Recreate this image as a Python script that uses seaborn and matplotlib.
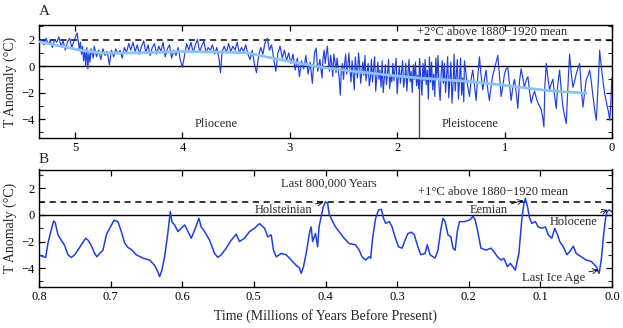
import numpy as np
import pandas as pd
import matplotlib
matplotlib.use("Agg")
import matplotlib.pyplot as plt
import seaborn as sns
from matplotlib.ticker import MultipleLocator, FixedLocator, FormatStrFormatter

# ---------------- Panel A data (Myr before present, T anomaly degC) ----------------
a_time = [
    5.33, 5.31, 5.29, 5.27, 5.25, 5.23, 5.21, 5.19, 5.17, 5.15, 5.13, 5.11, 5.09, 5.07, 5.05, 5.03, 5.01, 4.98,
    4.96, 4.95, 4.94, 4.93, 4.92, 4.91, 4.90, 4.89, 4.88, 4.87, 4.86, 4.85, 4.83, 4.82, 4.80, 4.78, 4.76, 4.74,
    4.72, 4.70, 4.68, 4.66, 4.64, 4.62, 4.60, 4.58, 4.56, 4.54, 4.52, 4.50, 4.48, 4.46, 4.44, 4.42, 4.40, 4.38,
    4.36, 4.34, 4.32, 4.30, 4.28, 4.26, 4.24, 4.22, 4.20, 4.18, 4.16, 4.14, 4.12, 4.10, 4.08, 4.06, 4.04, 4.02,
    4.00,
    3.98, 3.96, 3.94, 3.92, 3.90, 3.88, 3.86, 3.84, 3.82, 3.80, 3.78, 3.76, 3.74, 3.72, 3.70, 3.68, 3.66, 3.645,
    3.63, 3.61, 3.59, 3.57, 3.55, 3.53, 3.51, 3.49, 3.47, 3.45, 3.43, 3.41, 3.39, 3.37, 3.35, 3.33, 3.31, 3.29,
    3.27, 3.25, 3.23, 3.21, 3.19, 3.17, 3.15, 3.13, 3.11, 3.09, 3.07, 3.05, 3.03, 3.01, 2.99,
    2.97, 2.95, 2.93, 2.91, 2.89, 2.87, 2.85, 2.83, 2.81, 2.79, 2.77, 2.755, 2.74, 2.72, 2.70,
    2.69, 2.68, 2.67, 2.66, 2.65, 2.64, 2.63, 2.62, 2.61, 2.60,
    2.59, 2.58, 2.57, 2.56, 2.55, 2.54, 2.53, 2.52, 2.51, 2.50,
    2.49, 2.48, 2.47, 2.46, 2.45, 2.44, 2.43, 2.42, 2.41, 2.40,
    2.39, 2.38, 2.37, 2.36, 2.35, 2.34, 2.33, 2.32, 2.31, 2.30,
    2.29, 2.28, 2.27, 2.26, 2.25, 2.24, 2.23, 2.22, 2.21, 2.20,
    2.19, 2.18, 2.17, 2.16, 2.15, 2.14, 2.13, 2.12, 2.11, 2.10,
    2.09, 2.08, 2.07, 2.06, 2.05, 2.04, 2.03, 2.02, 2.01, 2.00,
    1.99, 1.98, 1.97, 1.96, 1.95, 1.94, 1.93, 1.92, 1.91, 1.90,
    1.89, 1.88, 1.87, 1.86, 1.85, 1.84, 1.83, 1.82, 1.81, 1.80,
    1.79, 1.78, 1.77, 1.76, 1.75, 1.74, 1.73, 1.72, 1.71, 1.70,
    1.69, 1.68, 1.67, 1.66, 1.65, 1.64, 1.63, 1.62, 1.61, 1.60,
    1.59, 1.58, 1.57, 1.56, 1.55, 1.54, 1.53, 1.52, 1.51, 1.50,
    1.49, 1.48, 1.47, 1.46, 1.45, 1.44, 1.43, 1.42, 1.41, 1.40,
    1.39, 1.38,
    1.374, 1.35, 1.327, 1.31, 1.296, 1.28, 1.265, 1.25, 1.234, 1.22, 1.203, 1.19, 1.172, 1.155, 1.141, 1.125,
    1.110, 1.085, 1.063, 1.045, 1.032, 1.015, 1.001, 0.985, 0.970, 0.955, 0.939, 0.925, 0.908, 0.892,
    0.877, 0.862, 0.846, 0.83, 0.815, 0.80, 0.783, 0.768, 0.752, 0.735, 0.721, 0.705, 0.690, 0.675, 0.659,
    0.645, 0.634, 0.625, 0.612, 0.595, 0.581, 0.565, 0.550, 0.535, 0.519, 0.505, 0.488, 0.472, 0.457, 0.44,
    0.426, 0.41, 0.395, 0.38, 0.364, 0.35, 0.333, 0.318, 0.301, 0.285, 0.270, 0.255, 0.239, 0.222, 0.208,
    0.192, 0.177, 0.16, 0.146, 0.138, 0.130, 0.122, 0.115, 0.104, 0.093, 0.08, 0.068, 0.055, 0.043, 0.032,
    0.021, 0.012, 0.006, 0.002,
]
a_temp = [
    1.8, 2.0, 1.6, 2.1, 1.7, 1.9, 1.4, 2.0, 1.8, 2.2, 1.5, 1.9, 1.2, 1.8, 2.1, 1.4, 1.9, 2.5,
    1.3, 1.8, 0.9, 1.5, 0.4, 1.2, 0.0, 1.4, -0.2, 1.0, 0.3, 1.3, 0.6, 1.5, 0.7, 1.2, 0.5, 1.3,
    0.8, 1.1, 0.1, 1.2, 0.7, 1.3, 0.9, 1.2, 0.6, 1.4, 1.0, 1.7, 1.2, 1.8, 1.1, 1.6, 0.9, 1.5,
    1.9, 1.0, 1.6, 0.8, 1.4, 1.7, 0.9, 1.5, 1.1, 1.8, 0.7, 1.3, 1.6, 0.6, 1.2, 0.8, 1.4, 0.5,
    -0.1,
    0.8, 1.7, 1.2, 1.8, 1.0, 1.6, 2.0, 1.1, 1.5, 1.9, 1.0, 1.4, 1.2, 1.6, 0.9, 1.4, 0.6, -0.5,
    1.1, 1.5, 1.0, 1.7, 1.1, 1.5, 1.2, 1.8, 1.0, 1.4, 1.1, 1.6, 0.9, 0.5, 1.2, 0.2, -0.5, 0.8,
    1.4, 0.9, 1.8, 2.1, 1.2, 1.6, 0.6, -0.4, 1.0, 1.5, 0.6, 1.2, 0.4, 1.0, 0.2,
    0.9, -0.3, 0.6, -0.8, 0.4, -0.2, 0.8, -0.6, 0.3, -1.3, 1.0, 1.35, -0.4, 0.5, -0.9,
    0.6, 1.2, 0.2, 0.9, 1.5, 0.3, -0.4, 0.8, 0.2, -0.8,
    0.9, 0.4, -0.5, 0.6, -0.2, -0.9, -2.2, -0.3, 0.2, -1.0,
    0.1, 0.9, -0.6, -0.1, 1.0, -0.2, -1.2, 0.4, -0.6, -1.8,
    0.7, -0.3, -0.9, 1.0, 0.1, -1.3, -0.5, 0.3, -0.7, 0.8,
    -1.1, -0.4, 0.2, -1.5, -0.9, 0.5, -1.2, -0.1, 0.7, -1.9,
    -0.8, 0.3, -1.0, -0.3, -1.6, 0.4, -2.0, -1.0, 0.1, -1.4,
    -0.6, 0.5, -1.7, -0.7, -1.2, 0.2, -1.1, -0.2, 0.6, -2.1,
    -0.9, 0.0, -1.3, -0.5, 0.4, -1.6, -1.0, 0.2, -1.9, -0.6,
    0.5, -1.2, -0.4, -2.0, 0.1, -1.0, 0.3, -1.5, -0.7, -1.7,
    0.4, -0.9, -2.2, 0.2, -1.1, 0.5, -1.4, -0.3, -2.5, 0.7,
    -1.2, 0.3, -1.8, -0.6, -2.3, 0.6, -0.9, 0.8, -1.6, -2.6,
    -0.5, 0.4, -1.3, 0.2, -2.0, -0.8, 0.7, -2.4, -1.0, 0.3,
    -2.8, -1.4, 0.9, -1.9, -0.7, 0.5, -2.5, -1.1, 0.6, -2.2,
    -0.9, -2.7,
    0.4, -1.2, -2.3, -0.9, -0.3, -1.5, -2.6, -0.8, 0.7, -0.6, -1.8, -1.1, -0.3, -1.9, -2.6, -1.5,
    -0.7, 0.1, 0.8, -1.0, -2.3, -1.4, -0.6, -0.2, -0.1, -1.3, -2.6, -1.7, -1.0, -2.0,
    -3.2, -1.2, -0.2, -0.9, -1.6, -1.1, -0.8, -1.9, -2.8, -2.2, -1.9, -2.4, -2.8, -3.0, -3.3,
    -3.9, -4.6, -1.5, 0.2, -1.0, -1.8, -1.3, -1.0, -2.2, -3.2, -1.4, -0.3, -1.9, -3.1, -3.8,
    -4.35, -1.5, 0.9, -0.5, -1.6, -1.2, -0.6, -0.2, 0.2, -1.8, -3.1, -2.0, -1.0, -0.7, -0.3,
    -1.2, -2.3, -3.4, -4.1, -2.8, -1.6, -0.2, 1.2, 0.3, -0.5, -1.4, -2.1, -2.6, -3.1, -3.5,
    -4.1, -3.0, -1.6, -0.9,
]

# smoothed (light blue) curve of panel A
a_smooth_time = [5.33, 5.10, 4.95, 4.75, 4.40, 4.00, 3.60, 3.40, 3.10, 2.70, 2.40, 2.00, 1.80, 1.35, 1.00, 0.60, 0.24]
a_smooth_temp = [1.83, 1.45, 1.20, 0.98, 1.00, 1.10, 1.05, 1.00, 0.50, -0.10, -0.40, -0.75, -0.90, -1.15, -1.45, -1.85, -2.05]

# ---------------- Panel B data (last 800,000 years) ----------------
b_time = [
    0.800, 0.7944, 0.7907, 0.7874, 0.7828, 0.7795, 0.7772, 0.7735, 0.7688, 0.7642, 0.7595, 0.7549, 0.7502,
    0.7433, 0.7349, 0.7316, 0.7270, 0.7223, 0.7191, 0.7153, 0.7107, 0.7060, 0.7014, 0.6953, 0.6898, 0.6851,
    0.6805, 0.6758, 0.6712, 0.6642, 0.6549, 0.6456, 0.6386, 0.6340, 0.6316, 0.6284, 0.6247, 0.6214, 0.6191,
    0.6167, 0.6144, 0.6107, 0.6060, 0.6014, 0.5967, 0.5921, 0.5874, 0.5828, 0.5767, 0.5735, 0.5688, 0.5619,
    0.5549, 0.5502, 0.5456, 0.5386, 0.5316, 0.5247, 0.5200, 0.5130, 0.5060, 0.4991, 0.4921, 0.4851, 0.4805,
    0.4758, 0.4726, 0.4688, 0.4619, 0.4549, 0.4479, 0.4409, 0.4363, 0.4340, 0.4307,
    0.427, 0.422, 0.420, 0.418, 0.414, 0.411, 0.409, 0.406, 0.403, 0.400, 0.397, 0.395, 0.390, 0.386, 0.381,
    0.374, 0.367, 0.358, 0.353, 0.349, 0.344, 0.339, 0.337, 0.334, 0.330, 0.326, 0.322, 0.319, 0.316, 0.311,
    0.307, 0.303, 0.298, 0.293, 0.289, 0.285, 0.280, 0.276, 0.271, 0.267, 0.261, 0.258, 0.254, 0.247, 0.243,
    0.239, 0.236, 0.233, 0.229, 0.225, 0.222, 0.219, 0.216, 0.213, 0.206, 0.199, 0.194, 0.191, 0.188, 0.183,
    0.176, 0.169, 0.165, 0.160, 0.155, 0.151, 0.146, 0.142, 0.135, 0.130, 0.128, 0.126, 0.123, 0.121, 0.118,
    0.115, 0.112, 0.107, 0.103, 0.098, 0.093, 0.089, 0.084, 0.080, 0.076, 0.073, 0.068, 0.063, 0.059, 0.054,
    0.050, 0.043, 0.036, 0.029, 0.022, 0.018, 0.015, 0.012, 0.009, 0.007, 0.004, 0.000,
]
b_temp = [
    -3.0, -3.15, -3.2, -2.1, -1.1, -0.45, -0.6, -1.5, -1.9, -2.3, -3.0, -3.2, -3.0,
    -2.45, -1.75, -1.9, -2.3, -2.9, -3.15, -2.9, -2.65, -1.5, -1.0, -0.4, -0.5, -1.25,
    -2.1, -2.45, -2.6, -3.0, -3.25, -3.4, -3.8, -4.3, -4.65, -4.15, -3.15, -1.9, -0.9,
    0.25, -0.5, -0.75, -1.25, -1.0, -0.75, -1.25, -1.75, -1.15, -0.25, -0.9, -1.25, -1.9,
    -2.9, -3.2, -3.0, -2.5, -1.9, -1.45, -2.0, -1.75, -1.25, -1.0, -0.65, -1.0, -1.65,
    -1.5, -2.65, -3.15, -2.9, -3.0, -3.4, -3.8, -4.0, -4.4, -3.9,
    -2.9, -1.25, -0.9, -2.0, -1.4, -2.4, -0.9, -0.1, 0.63, 1.0, 0.88, 0.1, -0.5, -0.9, -1.25,
    -1.75, -2.15, -2.25, -2.65, -3.15, -3.4, -3.15, -3.27, -1.65, -0.25, 0.38, 0.43, -0.25, -0.63, -0.5,
    -0.9, -1.65, -2.4, -2.5, -1.9, -1.4, -1.3, -1.5, -2.4, -3.0, -2.9, -2.25, -3.0, -3.25, -2.65,
    -1.1, -0.25, -0.5, -1.5, -1.65, -2.5, -2.65, -1.25, -0.5, -0.5, -0.38, -0.1, -0.38, -1.1, -2.5,
    -2.65, -2.5, -2.75, -3.15, -3.4, -3.27, -3.9, -3.65, -4.15, -2.9, -1.65, -0.38, 0.88, 1.25, 0.63,
    -0.25, -0.63, -0.5, -0.9, -1.0, -0.9, -1.5, -1.75, -1.0, -1.5, -2.0, -2.4, -3.0, -2.75, -2.35,
    -2.9, -3.15, -3.4, -3.5, -3.9, -4.4, -3.4, -1.65, -0.25, 0.25, 0.38, 0.25,
]

a_xticks = [5, 4, 3, 2, 1, 0]
b_xticks = [0.8, 0.7, 0.6, 0.5, 0.4, 0.3, 0.2, 0.1, 0.0]
y_ticks = [2, 0, -2, -4]

BLUE = "#1f3fe0"
LIGHT = "#8cc2f2"

sns.set_theme(style="ticks")
plt.rcParams["font.family"] = ["Liberation Serif", "DejaVu Serif"]
plt.rcParams["axes.linewidth"] = 1.0

fig = plt.figure(figsize=(6.23, 3.28), dpi=100)
axA = fig.add_axes([39 / 623, 1 - 138 / 328, 573 / 623, 113 / 328])
axB = fig.add_axes([39 / 623, 1 - 287 / 328, 573 / 623, 117.5 / 328])

dfA = pd.DataFrame({"t": a_time, "T": a_temp})
dfS = pd.DataFrame({"t": a_smooth_time, "T": a_smooth_temp})
dfB = pd.DataFrame({"t": b_time, "T": b_temp})

# Panel A
axA.axvline(1.8, ymin=0, ymax=(0.6 + 5.43) / (3.1 + 5.43), color="#555555", lw=1.0, zorder=1)
axA.axhline(0, color="black", lw=1.0, zorder=1.5)
axA.axhline(2, color="black", lw=1.1, ls=(0, (4, 3)), zorder=1.5)
sns.lineplot(data=dfA, x="t", y="T", ax=axA, color=BLUE, lw=0.85, estimator=None, sort=False, zorder=2)
sns.lineplot(data=dfS, x="t", y="T", ax=axA, color=LIGHT, lw=2.0, estimator=None, sort=False, zorder=3)
axA.set_xlim(5.335, 0)
axA.set_ylim(-5.43, 3.1)
axA.xaxis.set_major_locator(FixedLocator(a_xticks))
axA.xaxis.set_major_formatter(FormatStrFormatter("%d"))
axA.text(1.12, 2.6, "+2°C above 1880\u22121920 mean", ha="center", va="center", fontsize=9)
axA.text(3.69, -4.4, "Pliocene", ha="center", va="center", fontsize=9)
axA.text(1.32, -4.4, "Pleistocene", ha="center", va="center", fontsize=9)
axA.set_xlabel("")

# Panel B
axB.axhline(0, color="black", lw=1.0, zorder=1.5)
axB.axhline(1, color="black", lw=1.1, ls=(0, (4, 3)), zorder=1.5)
sns.lineplot(data=dfB, x="t", y="T", ax=axB, color=BLUE, lw=1.1, estimator=None, sort=False, zorder=2)
axB.set_xlim(0.8, 0)
axB.set_ylim(-5.43, 3.43)
axB.xaxis.set_major_locator(FixedLocator(b_xticks))
axB.xaxis.set_major_formatter(FormatStrFormatter("%.1f"))
axB.text(0.395, 2.39, "Last 800,000 Years", ha="center", va="center", fontsize=9)
axB.text(0.166, 1.71, "+1°C above 1880\u22121920 mean", ha="center", va="center", fontsize=9)
arrow = dict(arrowstyle="->", color="black", lw=0.6, shrinkA=0, shrinkB=0)
axB.annotate("Holsteinian", xy=(0.403, 0.95), xytext=(0.459, 0.38), ha="center", va="center",
             fontsize=9, arrowprops=arrow)
axB.annotate("Eemian", xy=(0.124, 1.1), xytext=(0.1715, 0.38), ha="center", va="center",
             fontsize=9, arrowprops=arrow)
axB.annotate("Holocene", xy=(0.006, 0.38), xytext=(0.054, -0.5), ha="center", va="center",
             fontsize=9, arrowprops=arrow)
axB.annotate("Last Ice Age", xy=(0.019, -4.15), xytext=(0.081, -4.78), ha="center", va="center",
             fontsize=9, arrowprops=arrow)
axB.set_xlabel("Time (Millions of Years Before Present)", fontsize=10, labelpad=4)

for ax in (axA, axB):
    ax.yaxis.set_major_locator(FixedLocator(y_ticks))
    ax.yaxis.set_minor_locator(MultipleLocator(1))
    ax.yaxis.set_major_formatter(FormatStrFormatter("%d"))
    ax.set_yticklabels([("\u2212%d" % -v) if v < 0 else "%d" % v for v in y_ticks])
    ax.tick_params(axis="both", which="major", direction="in", top=True, right=True,
                   length=4, width=0.9, labelsize=9, pad=3, colors="black")
    ax.tick_params(axis="y", which="minor", direction="in", right=True, left=True,
                   length=3, width=0.8)
    ax.set_ylabel("T Anomaly (°C)", fontsize=10, labelpad=3)
    for s in ax.spines.values():
        s.set_color("black")
        s.set_linewidth(1.0)

fig.text(39 / 623, 1 - 15 / 328, "A", fontsize=11, ha="left", va="baseline")
fig.text(39 / 623, 1 - 163 / 328, "B", fontsize=11, ha="left", va="baseline")

fig.savefig("out.png", dpi=100)
